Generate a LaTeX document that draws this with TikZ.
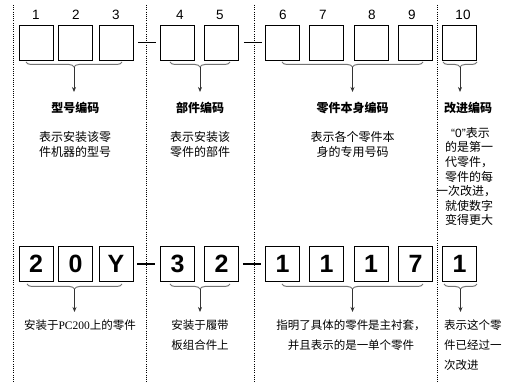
\documentclass[tikz,border=0pt]{standalone}
\usepackage{fontspec}
\setmainfont{Noto Sans CJK SC}
\newfontfamily\arialf{Liberation Sans}
\newfontfamily\tnrf{Liberation Serif}
\usetikzlibrary{decorations.pathreplacing,arrows.meta}
\begin{document}
\begin{tikzpicture}[x=1pt,y=-1pt,
 box/.style={draw,line width=0.8pt,minimum width=34pt,minimum height=35pt,inner sep=0pt},
 bigdig/.style={box,font=\arialf\bfseries\fontsize{25}{25}\selectfont},
 idx/.style={font=\arialf\fontsize{13.5}{14}\selectfont,inner sep=0pt},
 sep/.style={dash pattern=on 1pt off 1.2pt,line width=0.8pt},
 dashtop/.style={line width=0.8pt},
 dashbot/.style={line width=1.6pt},
 brc/.style={decorate,decoration={brace,mirror,amplitude=5pt},draw=black!55,line width=1pt},
 arr/.style={-{Stealth[length=5pt,width=4pt]},line width=0.8pt,draw=black!80},
 ttl/.style={font=\bfseries\fontsize{12}{12}\selectfont,inner sep=0pt,anchor=north},
 desc/.style={font=\fontsize{12}{15}\selectfont,align=center,inner sep=0pt,anchor=north},
 side/.style={font=\fontsize{12}{14.6}\selectfont,align=left,inner sep=0pt,anchor=north west},
 bdesc/.style={font=\fontsize{11.5}{20}\selectfont,align=center,inner sep=0pt,anchor=north},
 bside/.style={font=\fontsize{11.5}{20}\selectfont,align=left,inner sep=0pt,anchor=north west},
]
\useasboundingbox (0,0) rectangle (515,382);
% separators
\foreach \sx/\nm in {13/s1,146/s2,254/s3,437/s4}{
  \coordinate (\nm a) at (\sx,5);
  \coordinate (\nm b) at (\sx,382);
  \draw[sep] (\nm a) -- (\nm b);
}
% top boxes
\foreach \bx/\nm in {36/1,75.5/2,116/3,177.5/4,221.5/5,282.5/6,326.5/7,371/8,415.5/9,459.5/10}{
  \node[box] (b\nm) at (\bx,42.5) {};
}
% index numbers
\foreach \ix/\t in {36/1,76/2,116/3,180/4,220/5,283/6,323/7,372/8,412/9,463/10}{
  \node[idx] (n\t) at (\ix,15) {\t};
}
\draw[dashtop] ([xshift=5pt]b3.east) -- ([xshift=-4pt]b4.west);
\draw[dashtop] ([xshift=5pt]b5.east) -- ([xshift=-3pt]b6.west);
% top braces
\coordinate (tb1l) at (26,62); \coordinate (tb1r) at (122,62);
\coordinate (tb2l) at (170,62); \coordinate (tb2r) at (230,62);
\coordinate (tb3l) at (282,62); \coordinate (tb3r) at (423,62);
\coordinate (tb4l) at (443,62); \coordinate (tb4r) at (477,62);
\draw[brc] (tb1l) -- (tb1r);
\draw[brc] (tb2l) -- (tb2r);
\draw[brc] (tb3l) -- (tb3r);
\draw[brc] (tb4l) -- (tb4r);
\coordinate (tt1) at (74,67); \coordinate (te1) at (74,92);
\coordinate (tt2) at (200,67); \coordinate (te2) at (200,92);
\coordinate (tt3) at (352.5,67); \coordinate (te3) at (352.5,92);
\coordinate (tt4) at (460,67); \coordinate (te4) at (460,92);
\foreach \k in {1,2,3,4}{ \draw[arr] (tt\k) -- (te\k); }
% titles
\node[ttl] (t1) at (75.5,102) {型号编码};
\node[ttl] (t2) at (200,102) {部件编码};
\node[ttl] (t3) at (352.5,102) {零件本身编码};
\node[ttl] (t4) at (468,102) {改进编码};
% descriptions
\node[desc] (d1) at (75,131) {表示安装该零\\件机器的型号};
\node[desc] (d2) at (200,131) {表示安装该\\零件的部件};
\node[desc] (d3) at (352.5,131) {表示各个零件本\\身的专用号码};
\node[side] (d4) at (445,127) {\hspace*{6pt}{\arialf “0”}表示\\的是第一\\代零件，\\零件的每\\\hspace*{-9pt}一次改进，\\就使数字\\变得更大};
% bottom boxes
\foreach \bx/\nm/\d in {36/1/2,75.5/2/0,116/3/Y,177.5/4/3,221.5/5/2,282.5/6/1,326.5/7/1,371/8/1,415.5/9/7,459.5/10/1}{
  \node[bigdig] (c\nm) at (\bx,264) {\d};
}
\draw[dashbot] ([xshift=4pt]c3.east) -- ([xshift=-5pt]c4.west);
\draw[dashbot] ([xshift=4pt]c5.east) -- ([xshift=-4pt]c6.west);
% bottom braces
\coordinate (bb1l) at (27,284); \coordinate (bb1r) at (122,284);
\coordinate (bb2l) at (170,284); \coordinate (bb2r) at (230,284);
\coordinate (bb3l) at (282,284); \coordinate (bb3r) at (423,284);
\coordinate (bb4l) at (444,284); \coordinate (bb4r) at (477,284);
\draw[brc] (bb1l) -- (bb1r);
\draw[brc] (bb2l) -- (bb2r);
\draw[brc] (bb3l) -- (bb3r);
\draw[brc] (bb4l) -- (bb4r);
\coordinate (bt1) at (74.5,289); \coordinate (be1) at (74.5,312);
\coordinate (bt2) at (200,289); \coordinate (be2) at (200,312);
\coordinate (bt3) at (352.5,289); \coordinate (be3) at (352.5,312);
\coordinate (bt4) at (460.5,289); \coordinate (be4) at (460.5,312);
\foreach \k in {1,2,3,4}{ \draw[arr] (bt\k) -- (be\k); }
% bottom descriptions
\node[bdesc] (e1) at (80,320) {安装于{\tnrf PC200}上的零件};
\node[bdesc] (e2) at (200,320) {安装于履带\\板组合件上};
\node[bdesc] (e3) at (351,320) {指明了具体的零件是主衬套，\\并且表示的是一单个零件};
\node[bside] (e4) at (444,320) {表示这个零\\件已经过一\\次改进};
\end{tikzpicture}
\end{document}
